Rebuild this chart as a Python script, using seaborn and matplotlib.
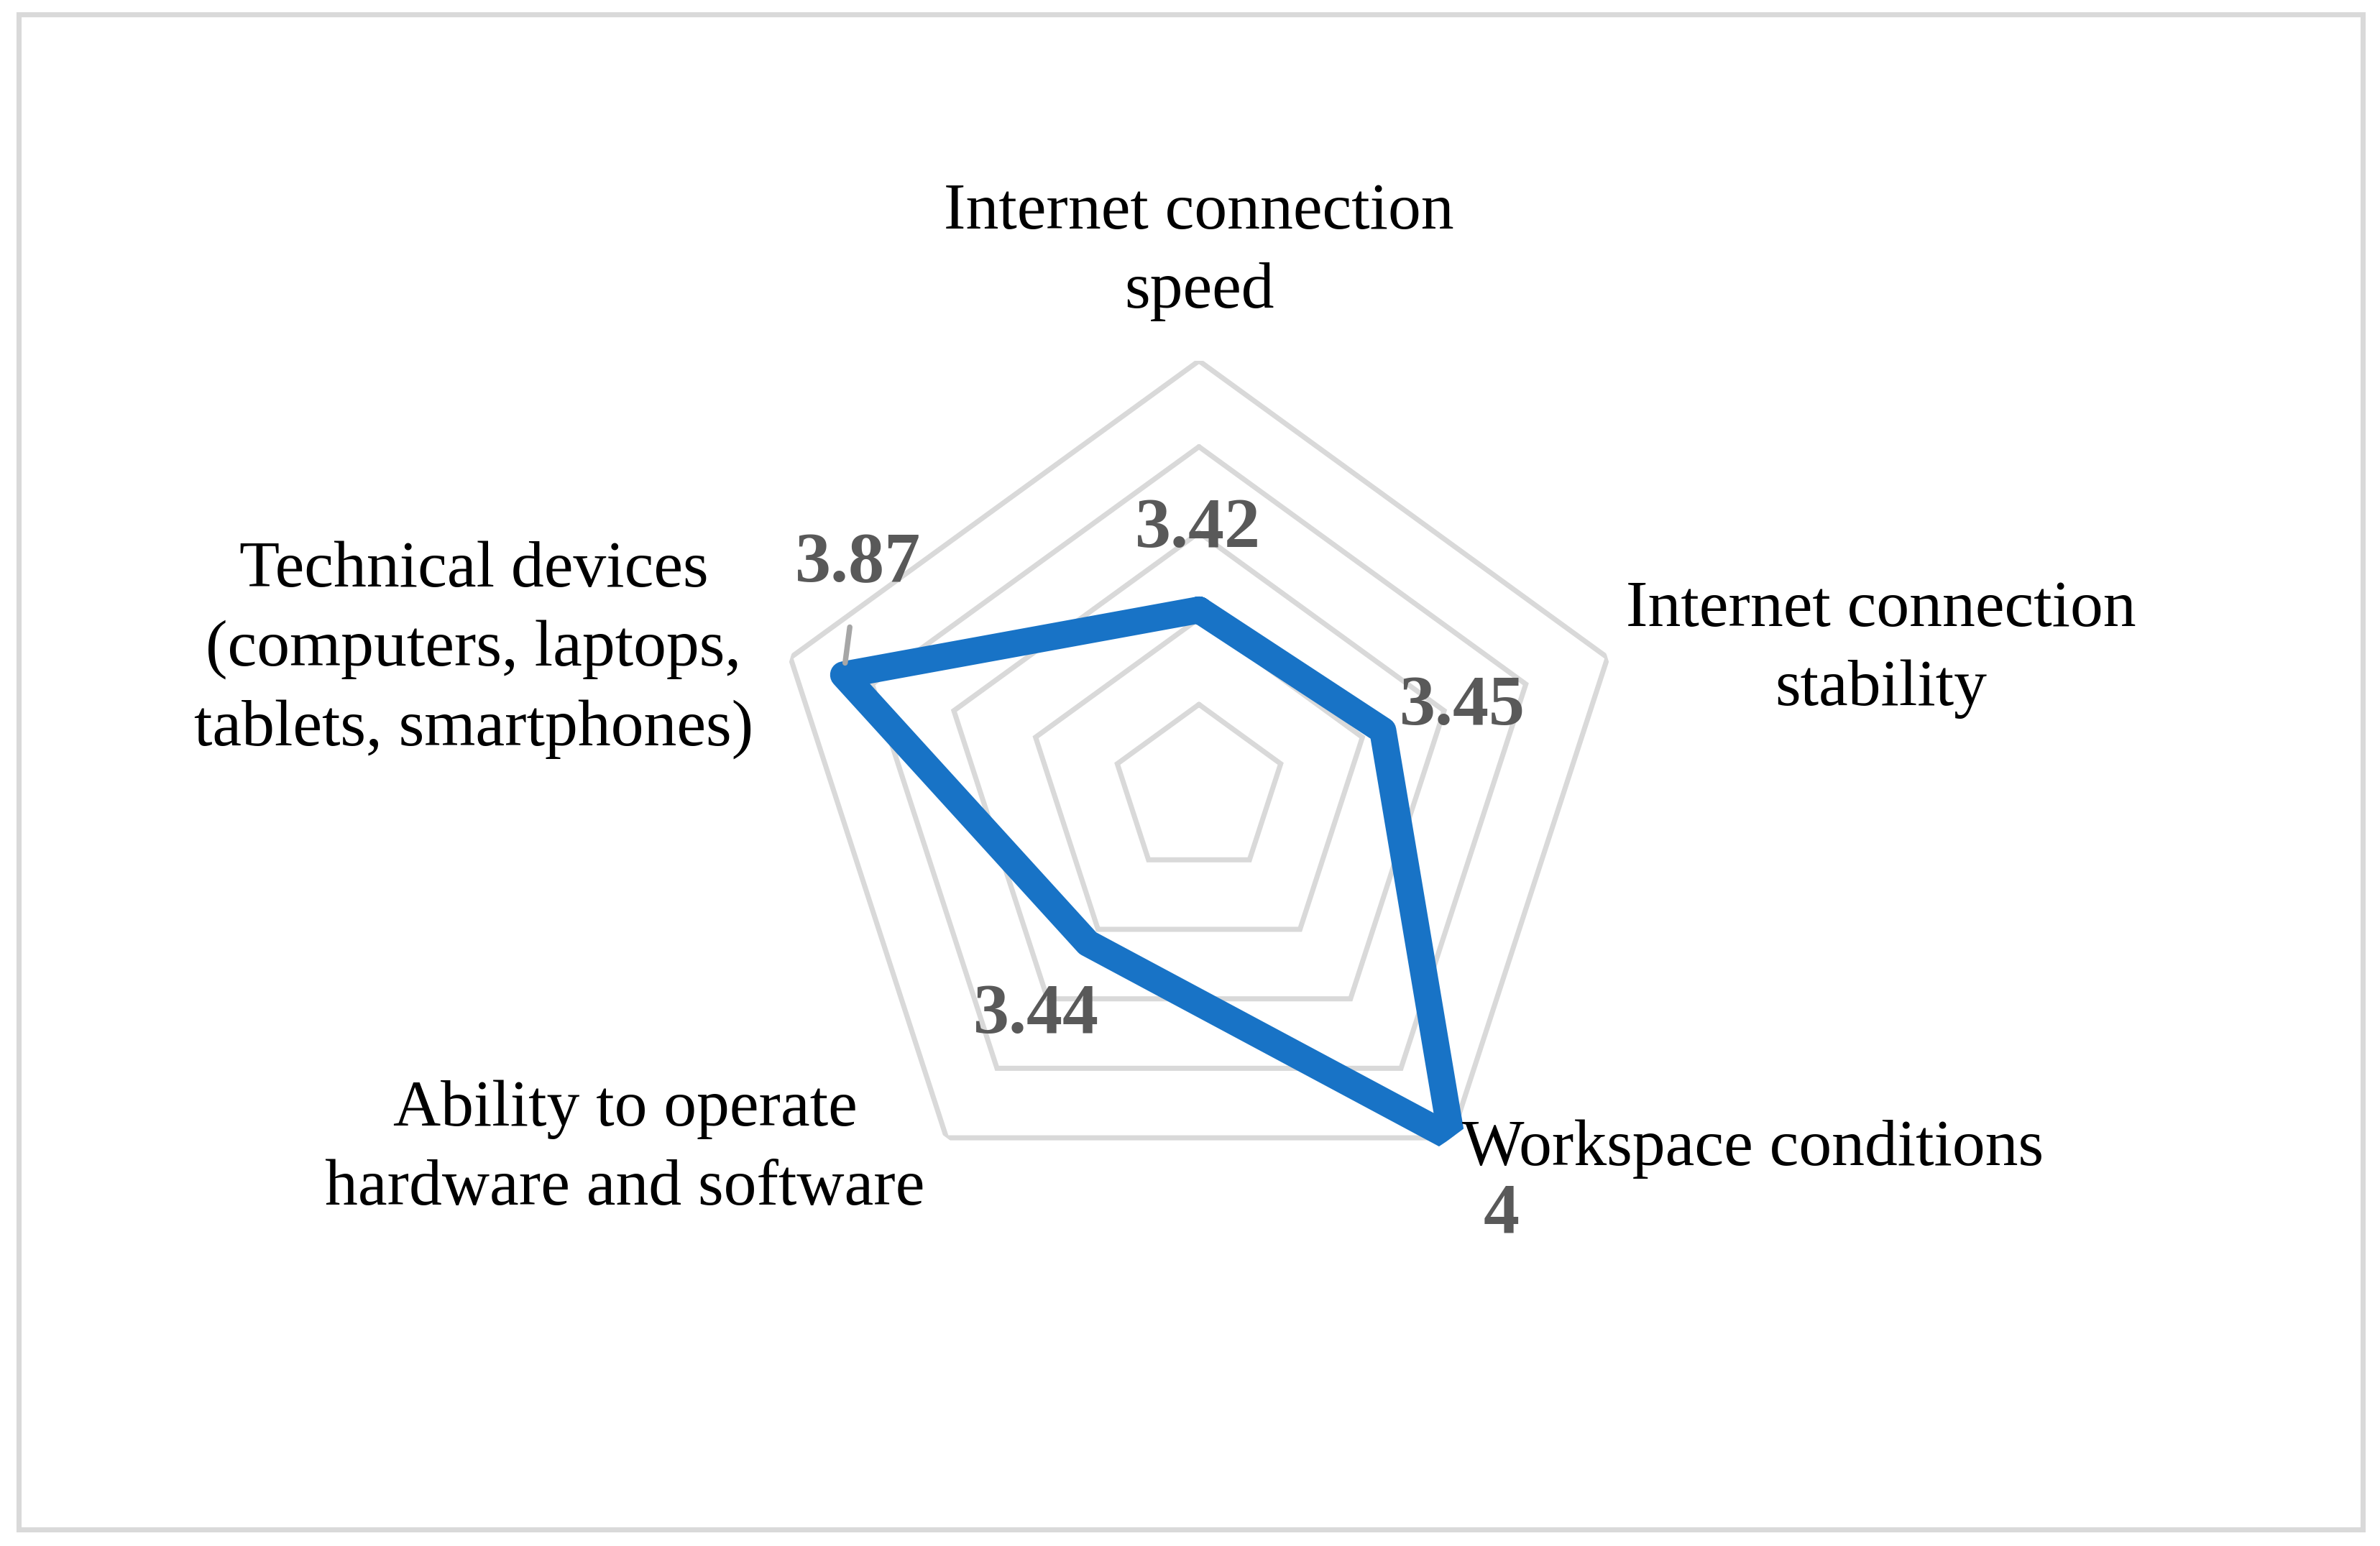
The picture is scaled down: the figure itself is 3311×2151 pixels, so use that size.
import numpy as np
import matplotlib
matplotlib.use("Agg")
import matplotlib.pyplot as plt
from matplotlib.patches import Rectangle
import seaborn as sns

# data
categories = [
    "Internet connection\nspeed",
    "Internet connection\nstability",
    "Workspace conditions",
    "Ability to operate\nhardware and software",
    "Technical devices\n(computers, laptops,\ntablets, smartphones)",
]
values = [3.42, 3.45, 4.0, 3.44, 3.87]
value_labels = ["3.42", "3.45", "4", "3.44", "3.87"]
ring_levels = [3.2, 3.4, 3.6, 3.8, 4.0]
r_min, r_max = 3.0, 4.0

LINE_COLOR = "#1873c6"
GRID_COLOR = "#d9d9d9"
LABEL_GRAY = "#595959"

sns.set_theme(style="white")
plt.rcParams["font.family"] = ["Liberation Serif", "DejaVu Serif"]

fig = plt.figure(figsize=(11.04, 7.17), dpi=300)
fig.patch.set_facecolor("white")
ax = fig.add_axes([0.32319, 0.21097, 0.36087, 0.55565], projection="polar")
ax.set_theta_offset(np.pi / 2)
ax.set_theta_direction(-1)
ax.set_ylim(r_min, r_max)
ax.grid(False)
ax.spines["polar"].set_visible(False)
ax.set_xticks([])
ax.set_yticks([])
ax.patch.set_alpha(0)

n = len(categories)
theta = np.linspace(0, 2 * np.pi, n, endpoint=False)
theta_closed = np.append(theta, theta[0] + 2 * np.pi)

# pentagon grid
for lvl in ring_levels:
    ax.plot(theta_closed, [lvl] * (n + 1), color=GRID_COLOR, lw=1.7, zorder=1,
            solid_joinstyle="miter")

# data line
vals_closed = values + values[:1]
sns.lineplot(x=theta_closed, y=vals_closed, sort=False, ax=ax, color=LINE_COLOR,
             linewidth=9, solid_joinstyle="round", solid_capstyle="round", zorder=3)

# category labels (offsets in points from outer vertex)
cat_offsets = [(0, 36.3), (91.4, 2.6), (3.6, -3.8), (-107.3, -3.8), (-105.8, 2.6)]
cat_ha = ["center", "center", "left", "center", "center"]
for t, lab, off, ha in zip(theta, categories, cat_offsets, cat_ha):
    ax.annotate(lab, xy=(t, r_max), xytext=off, textcoords="offset points",
                ha=ha, va="center", fontsize=22, color="black",
                linespacing=1.43, annotation_clip=False)

# value labels
val_offsets = [(-0.4, 26.8), (26.5, 7.8), (16.7, -25.7), (-17.4, -24.2), (4.8, 36.8)]
for i, (t, v, lab, off) in enumerate(zip(theta, values, value_labels, val_offsets)):
    kw = {}
    if i == 4:
        kw["arrowprops"] = dict(arrowstyle="-", color="#a6a6a6", lw=1.8,
                                shrinkA=8, shrinkB=4)
    ax.annotate(lab, xy=(t, v), xytext=off, textcoords="offset points",
                ha="center", va="center", fontsize=24, fontweight="bold",
                color=LABEL_GRAY, annotation_clip=False, zorder=5, **kw)

# outer border
fig.patches.append(Rectangle((0.008, 0.0107), 0.9845, 0.9798,
                             transform=fig.transFigure, fill=False,
                             ec=GRID_COLOR, lw=1.7))

fig.savefig("out.png", dpi=300)
